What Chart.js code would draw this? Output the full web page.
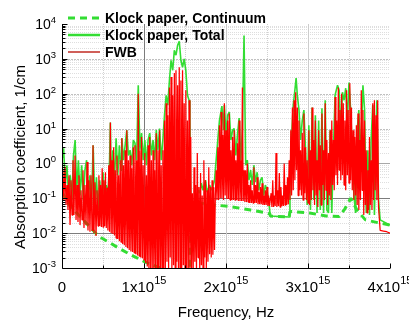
<!DOCTYPE html>
<html>
<head>
<meta charset="utf-8">
<script src="https://cdn.jsdelivr.net/npm/chart.js@4.4.1/dist/chart.umd.min.js"></script>
<style>
  html, body { margin: 0; padding: 0; background: #fff; }
  canvas { display: block; }
</style>
</head>
<body>
<canvas id="absorption-chart" width="409" height="321"></canvas>
<script>
// Frequencies are in units of 1e15 Hz, absorption in 1/cm

// Klock paper, continuum (dashed)
const contFreq = [0, 0.10, 0.22, 0.34, 0.42, 0.46, 0.59, 0.71, 0.87, 1.01,
  1.20, 1.38, 1.555, 1.56, 1.80, 2.05, 2.30, 2.50, 2.535, 2.54,
  2.77, 2.78, 3.02, 3.22, 3.38, 3.45, 3.52, 3.60, 3.70, 3.85,
  4.00];
const contAbs = [0.15, 0.06, 0.03, 0.015, 0.0095, 0.0078, 0.0052, 0.0035, 0.0022, 0.0015,
  0.001, 0.0007, 0.00055, 0.08, 0.066, 0.058, 0.046, 0.038, 0.036, 0.031,
  0.029, 0.042, 0.038, 0.031, 0.03, 0.05, 0.1, 0.045, 0.024, 0.02,
  0.017];

// Klock paper, total
const totalFreq = [0, 0.02, 0.04, 0.06, 0.08, 0.10, 0.12, 0.14, 0.16, 0.18,
  0.20, 0.22, 0.24, 0.26, 0.28, 0.30, 0.32, 0.34, 0.36, 0.38,
  0.40, 0.42, 0.44, 0.46, 0.48, 0.50, 0.52, 0.54, 0.56, 0.58,
  0.59, 0.60, 0.62, 0.64, 0.66, 0.68, 0.70, 0.72, 0.73, 0.75,
  0.77, 0.79, 0.81, 0.83, 0.85, 0.87, 0.89, 0.91, 0.93, 0.95,
  0.97, 0.99, 1.01, 1.03, 1.05, 1.07, 1.09, 1.11, 1.13, 1.15,
  1.17, 1.19, 1.21, 1.23, 1.25, 1.27, 1.29, 1.31, 1.33, 1.35,
  1.37, 1.39, 1.41, 1.43, 1.45, 1.47, 1.49, 1.51, 1.53, 1.55,
  1.56, 1.57, 1.60, 1.63, 1.66, 1.68, 1.70, 1.72, 1.75, 1.77,
  1.80, 1.83, 1.86, 1.88, 1.90, 1.92, 1.95, 1.97, 1.98, 2.00,
  2.02, 2.04, 2.06, 2.08, 2.10, 2.12, 2.14, 2.16, 2.18, 2.20,
  2.22, 2.24, 2.26, 2.28, 2.30, 2.32, 2.34, 2.36, 2.38, 2.40,
  2.42, 2.44, 2.46, 2.48, 2.50, 2.52, 2.54, 2.77, 2.78, 2.80,
  2.82, 2.84, 2.855, 2.87, 2.89, 2.91, 2.93, 2.95, 2.97, 2.99,
  3.01, 3.03, 3.05, 3.07, 3.09, 3.11, 3.13, 3.15, 3.17, 3.19,
  3.21, 3.23, 3.25, 3.27, 3.29, 3.31, 3.33, 3.36, 3.38, 3.40,
  3.42, 3.44, 3.46, 3.48, 3.50, 3.52, 3.54, 3.56, 3.58, 3.60,
  3.62, 3.64, 3.67, 3.69, 3.71, 3.73, 3.75, 3.77, 3.79, 3.81,
  3.84, 3.86, 3.88, 4.00];
const totalAbs = [1.24, 2.7, 0.24, 0.89, 0.12, 0.46, 0.089, 1.7, 4.7, 0.17,
  1.24, 0.12, 0.89, 0.089, 0.64, 1.24, 0.089, 0.46, 0.064, 3.3,
  0.064, 0.4, 0.046, 0.33, 0.064, 0.56, 0.089, 0.24, 0.12, 1.24,
  15, 0.17, 2.4, 0.33, 5.3, 0.46, 3.3, 0.64, 5.3, 1.24,
  3.3, 9, 1.7, 2.4, 0.89, 4.7, 3.8, 1.24, 175, 2.4,
  7.4, 1.24, 4.7, 0.89, 4.7, 7.4, 1.7, 4.7, 1.24, 9,
  2.4, 10, 1.24, 4.7, 24, 90, 47, 240, 910, 470,
  1760, 1270, 2450, 3200, 910, 570, 1000, 470, 90, 65,
  17, 0.089, 0.078, 0.083, 0.17, 0.14, 0.27, 0.17, 0.33, 0.15,
  0.24, 0.17, 0.33, 1.24, 4.7, 17, 44, 9, 47, 6.5,
  24, 30, 4.7, 9, 10, 1.7, 6.5, 20, 1.24, 9,
  4700, 0.89, 1.24, 0.33, 0.64, 0.24, 0.89, 0.29, 0.56, 0.17,
  0.33, 0.4, 0.12, 0.24, 0.17, 0.089, 0.031, 0.029, 0.33, 5.7,
  47, 126, 280, 90, 34, 4.7, 17, 34, 2.4, 0.064,
  12.5, 0.046, 40, 0.089, 24, 0.038, 17, 0.046, 38, 0.038,
  65, 0.046, 0.038, 9, 0.038, 2.4, 90, 175, 126, 9,
  110, 65, 144, 17, 210, 34, 2.4, 0.12, 0.038, 9,
  34, 1.24, 175, 34, 0.038, 2.4, 0.033, 4.7, 47, 0.033,
  65, 0.089, 0.024, 0.017];

// FWB
const fwbFreq = [0, 0.012, 0.024, 0.037, 0.049, 0.061, 0.073, 0.085, 0.098, 0.11,
  0.122, 0.134, 0.146, 0.159, 0.171, 0.183, 0.195, 0.207, 0.22, 0.232,
  0.244, 0.256, 0.268, 0.28, 0.293, 0.305, 0.317, 0.329, 0.341, 0.354,
  0.366, 0.378, 0.39, 0.402, 0.415, 0.427,
  0.44, 0.45, 0.46, 0.47, 0.48, 0.49, 0.50, 0.51, 0.52, 0.53,
  0.54, 0.55, 0.56, 0.57, 0.58, 0.59, 0.60, 0.61, 0.62, 0.63,
  0.64, 0.65, 0.66, 0.67, 0.68, 0.69, 0.70, 0.71, 0.72, 0.73,
  0.74, 0.75, 0.76, 0.77, 0.78, 0.79, 0.80, 0.81, 0.82, 0.83,
  0.84, 0.85, 0.86, 0.87, 0.88, 0.89, 0.90, 0.91, 0.92, 0.93,
  0.94, 0.95, 0.96, 0.97, 0.98, 0.99, 1.00, 1.01, 1.02, 1.03,
  1.04, 1.05, 1.06, 1.07, 1.08, 1.09, 1.10, 1.11, 1.12, 1.13,
  1.14, 1.15, 1.16, 1.17, 1.18, 1.19, 1.20, 1.21, 1.22, 1.23,
  1.24, 1.25, 1.26, 1.27, 1.28, 1.29, 1.30, 1.31, 1.32, 1.33,
  1.34, 1.35, 1.36, 1.37, 1.38, 1.39, 1.40, 1.41, 1.42, 1.43,
  1.44, 1.45, 1.46, 1.47, 1.48, 1.49, 1.50, 1.51, 1.52, 1.53,
  1.54, 1.55, 1.56, 1.57, 1.58,
  1.59, 1.60, 1.61, 1.62, 1.63, 1.64, 1.65, 1.66, 1.67, 1.68,
  1.69, 1.70, 1.71, 1.72, 1.73, 1.74, 1.75, 1.76, 1.77, 1.78,
  1.79, 1.80, 1.81, 1.82, 1.83, 1.84, 1.85, 1.86,
  1.87, 1.88, 1.89, 1.90, 1.91, 1.92, 1.93, 1.94, 1.95, 1.96,
  1.97, 1.98, 1.99, 2.00, 2.01, 2.02, 2.03, 2.04, 2.05, 2.06,
  2.07, 2.08, 2.09, 2.10, 2.11, 2.12, 2.13, 2.14, 2.15, 2.16,
  2.17, 2.18, 2.19, 2.20, 2.21, 2.22, 2.23, 2.24, 2.25, 2.26,
  2.27, 2.28, 2.29, 2.30, 2.31, 2.32, 2.33, 2.34, 2.35, 2.36,
  2.37, 2.38, 2.39, 2.40, 2.41, 2.42, 2.43, 2.44, 2.45, 2.46,
  2.47, 2.48, 2.49, 2.50, 2.51, 2.52, 2.53,
  2.55, 2.56, 2.57, 2.58, 2.59, 2.60, 2.61, 2.62, 2.63, 2.64,
  2.65, 2.66, 2.67, 2.68, 2.69, 2.70, 2.71, 2.72, 2.73, 2.74,
  2.75, 2.76, 2.77, 2.78,
  2.79, 2.80, 2.81, 2.82, 2.83, 2.84, 2.85, 2.86, 2.87, 2.88,
  2.89, 2.90, 2.91, 2.92, 2.93, 2.94, 2.95, 2.96, 2.97, 2.98,
  2.99, 3.00, 3.01, 3.02, 3.03, 3.04, 3.05, 3.06, 3.07, 3.08,
  3.09, 3.10, 3.11, 3.12, 3.13, 3.14, 3.15, 3.16, 3.17, 3.18,
  3.19, 3.20, 3.21, 3.22, 3.23, 3.24, 3.25, 3.26, 3.27, 3.28,
  3.29, 3.30, 3.31, 3.32, 3.33, 3.34, 3.35, 3.36, 3.37, 3.38,
  3.39, 3.40, 3.41, 3.42, 3.43, 3.44, 3.45, 3.46, 3.47, 3.48,
  3.49, 3.50, 3.51, 3.52, 3.53, 3.54, 3.55, 3.56, 3.57, 3.58,
  3.59, 3.60, 3.61, 3.62, 3.63, 3.64, 3.65, 3.66, 3.67, 3.68,
  3.69, 3.70, 3.71, 3.72, 3.73, 3.74, 3.75, 3.76, 3.77, 3.78,
  3.79, 3.80, 3.81, 3.82, 3.83, 3.84, 3.85, 3.86,
  3.88, 3.92, 3.96, 4.00];
const fwbAbs = [0.12, 0.64, 0.089, 0.8, 0.064, 0.24, 0.046, 0.46, 0.017, 0.33,
  0.033, 1.24, 0.033, 1.7, 0.024, 0.24, 0.021, 0.46, 0.017, 0.17,
  0.024, 0.64, 0.014, 0.24, 0.017, 1.1, 0.012, 0.33, 0.011, 0.46,
  0.012, 3.3, 0.01, 0.29, 0.0083, 0.17,
  0.016, 0.46, 0.016, 0.24, 0.015, 0.73, 0.015, 0.33, 0.016, 0.56,
  0.014, 0.2, 0.012, 0.89, 0.011, 15, 0.01, 1.24, 0.0095, 2.9,
  0.0085, 0.64, 0.0072, 1.7, 0.0068, 0.46, 0.0059, 1.24, 0.0055, 5.3,
  0.0049, 0.89, 0.0045, 2.4, 0.004, 9, 0.0037, 1.24, 0.0033, 1.7,
  0.003, 0.73, 0.0029, 2.9, 0.0027, 3.3, 0.0025, 1.24, 0.0023, 100,
  0.0022, 2.4, 0.002, 5.7, 0.0019, 0.89, 0.0017, 2, 0.0014, 0.46,
  0.0011, 3.3, 0.0009, 5.7, 0.0009, 1.24, 0.0009, 2.4, 0.0009, 0.64,
  0.0009, 7.4, 0.0009, 2.4, 0.0009, 9, 0.0009, 0.89, 0.0009, 2.4,
  0.0009, 17, 0.0009, 53, 0.0015, 24, 0.0009, 150, 0.002, 300,
  0.0009, 90, 0.0012, 390, 0.0009, 470, 0.0015, 175, 0.0009, 570,
  0.001, 240, 0.0009, 470, 0.0012, 53, 0.0009, 126, 0.0009, 17,
  0.0009, 65, 0.0009, 5.7, 0.0009,
  0.14, 0.0009, 0.78, 0.0015, 0.24, 0.0009, 2, 0.002, 0.21, 0.0009,
  0.53, 0.0012, 0.12, 0.0009, 1.24, 0.002, 0.33, 0.001, 0.17, 0.0015,
  0.78, 0.0025, 0.21, 0.002, 0.33, 0.0024, 0.21, 0.0033,
  0.12, 0.64, 0.089, 2.9, 0.089, 12.5, 0.1, 30, 0.1, 6.5,
  0.089, 53, 0.12, 9, 0.095, 17, 0.095, 27, 0.089, 2.4,
  0.089, 5.7, 0.089, 9, 0.089, 1.24, 0.089, 3.8, 0.083, 17,
  0.083, 1.24, 0.083, 150, 0.083, 0.64, 0.078, 0.64, 0.078, 1.0,
  0.078, 0.24, 0.073, 0.33, 0.073, 0.17, 0.073, 0.78, 0.073, 0.24,
  0.073, 0.4, 0.068, 0.15, 0.068, 0.21, 0.068, 0.27, 0.064, 0.12,
  0.064, 0.17, 0.064, 0.21, 0.06, 0.12, 0.06,
  0.14, 0.056, 0.33, 0.056, 0.12, 0.06, 2, 0.056, 0.17, 0.06,
  0.53, 0.056, 0.21, 0.06, 0.12, 0.06, 1.0, 0.064, 0.24, 0.064,
  0.4, 0.068, 1.24, 0.089,
  9, 0.12, 40, 0.17, 65, 0.33, 110, 0.64, 40, 0.12,
  17, 0.17, 2.4, 0.12, 7.4, 0.089, 27, 0.14, 2.9, 0.089,
  1.24, 0.073, 9, 0.064, 2.4, 0.089, 40, 0.17, 4.7, 0.064,
  17, 0.12, 1.24, 0.056, 9, 0.17, 3.3, 0.064, 27, 0.24,
  2.4, 0.089, 53, 0.17, 4.7, 0.064, 2, 0.12, 9, 0.089,
  17, 0.24, 4.7, 0.17, 80, 0.46, 17, 0.24, 150, 0.64,
  34, 0.33, 100, 0.46, 53, 0.24, 17, 0.17, 126, 0.46,
  34, 0.27, 200, 0.33, 40, 0.17, 9, 0.089, 5.7, 0.12,
  12.5, 0.064, 27, 0.046, 4.7, 0.089, 126, 0.17, 34, 0.033,
  17, 0.064, 2.4, 0.038, 0.64, 0.046, 5.7, 0.064, 1.24, 0.046,
  53, 0.089, 65, 0.17, 24, 0.089, 65, 0.056,
  0.012, 0.0115, 0.011, 0.01];

// axis ticks
const yTickExps = [-3, -2, -1, 0, 1, 2, 3, 4];
const xTickMults = [0, 1, 2, 3, 4];

const GREEN = '#33dd33';
const RED = '#ff0000';
const FONT = 'Arial, "Liberation Sans", sans-serif';

function toPoints(freqs, values) {
    const n = Math.min(freqs.length, values.length);
    if (freqs.length !== values.length) console.warn('length mismatch', freqs.length, values.length);
    return freqs.slice(0, n).map((f, i) => ({ x: f * 1e15, y: values[i] }));
}

// draws "base" followed by a raised exponent
function powerLabel(ctx, base, sup, x, y, align, baseSize, supSize, rise) {
    ctx.font = baseSize + 'px ' + FONT;
    const bw = ctx.measureText(base).width;
    ctx.font = supSize + 'px ' + FONT;
    const sw = sup ? ctx.measureText(sup).width : 0;
    let left = x;
    if (align === 'right') left = x - bw - sw;
    if (align === 'center') left = x - (bw + sw) / 2;
    ctx.textAlign = 'left';
    ctx.textBaseline = 'alphabetic';
    ctx.font = baseSize + 'px ' + FONT;
    ctx.fillText(base, left, y);
    if (sup) {
        ctx.font = supSize + 'px ' + FONT;
        ctx.fillText(sup, left + bw, y - rise);
    }
}

function hLine(ctx, y, x0, x1) {
    ctx.beginPath(); ctx.moveTo(x0, y); ctx.lineTo(x1, y); ctx.stroke();
}
function vLine(ctx, x, y0, y1) {
    ctx.beginPath(); ctx.moveTo(x, y0); ctx.lineTo(x, y1); ctx.stroke();
}

const framePlugin = {
    id: 'frame',
    beforeDatasetsDraw(chart) {
        const { ctx, chartArea: a, scales: { x, y } } = chart;
        ctx.save();
        ctx.lineWidth = 1;

        // horizontal grid: decades and 2..9 in between
        yTickExps.slice(0, -1).forEach(e => {
            for (let m = 1; m <= 9; m++) {
                if (e === -3 && m === 1) continue;
                const py = Math.round(y.getPixelForValue(m * Math.pow(10, e))) + 0.5;
                if (m === 1) {
                    if (e === -2 || e === -1) { ctx.strokeStyle = '#7c7c7c'; ctx.setLineDash([]); }
                    else if (e === 0) { ctx.strokeStyle = '#a8a8a8'; ctx.setLineDash([]); }
                    else { ctx.strokeStyle = '#c0c0c0'; ctx.setLineDash([2, 1]); }
                } else {
                    ctx.strokeStyle = '#dedede'; ctx.setLineDash([1, 1]);
                }
                hLine(ctx, py, a.left, a.right);
            }
        });

        // vertical grid every 0.5e15
        [0.5, 1, 1.5, 2, 2.5, 3, 3.5].forEach(h => {
            const px = Math.round(x.getPixelForValue(h * 1e15)) + 0.5;
            if (h === 1) { ctx.strokeStyle = '#7c7c7c'; ctx.setLineDash([]); }
            else if (Number.isInteger(h)) { ctx.strokeStyle = '#cccccc'; ctx.setLineDash([]); }
            else { ctx.strokeStyle = '#d0d0d0'; ctx.setLineDash([1, 1]); }
            vLine(ctx, px, a.top, a.bottom);
        });
        ctx.restore();
    },
    afterDatasetsDraw(chart) {
        const { ctx, chartArea: a, scales: { x, y } } = chart;
        ctx.save();
        ctx.setLineDash([]);
        ctx.strokeStyle = '#000';
        ctx.fillStyle = '#000';
        ctx.lineWidth = 1;

        // axis lines
        const ax = Math.round(a.left) + 0.5;
        const ay = Math.round(a.bottom) + 0.5;
        vLine(ctx, ax, a.top, ay);
        hLine(ctx, ay, ax, a.right);

        // y ticks (inside) and labels
        yTickExps.forEach((e, i) => {
            for (let m = 1; m <= 9; m++) {
                if (m > 1 && i === yTickExps.length - 1) break;
                const py = Math.round(y.getPixelForValue(m * Math.pow(10, e))) + 0.5;
                hLine(ctx, py, ax, ax + (m === 1 ? 5 : 3));
            }
            const ty = y.getPixelForValue(Math.pow(10, e));
            powerLabel(ctx, '10', String(e), 56, ty + 5, 'right', 14, 9.5, 6);
        });

        // x ticks (inside) and labels
        [0.5, 1, 1.5, 2, 2.5, 3, 3.5, 4].forEach(h => {
            const px = Math.round(x.getPixelForValue(h * 1e15)) + 0.5;
            vLine(ctx, px, ay, ay - (Number.isInteger(h) ? 5 : 3));
        });
        xTickMults.forEach(mult => {
            const px = x.getPixelForValue(mult * 1e15);
            if (mult === 0) powerLabel(ctx, '0', '', px, 292, 'center', 15, 11, 0);
            else powerLabel(ctx, mult + 'x10', '15', px, 292, 'center', 15, 11, 8);
        });

        // axis titles
        ctx.font = '15px ' + FONT;
        ctx.textAlign = 'center';
        ctx.textBaseline = 'alphabetic';
        ctx.fillText('Frequency, Hz', 226, 317);
        ctx.save();
        ctx.translate(24.5, 157);
        ctx.rotate(-Math.PI / 2);
        ctx.fillText('Absorption coefficient, 1/cm', 0, 0);
        ctx.restore();

        // legend in the upper left corner of the plot
        ctx.font = 'bold 14px ' + FONT;
        ctx.textAlign = 'left';
        ctx.textBaseline = 'middle';
        chart.data.datasets.forEach((ds, i) => {
            const ly = 18 + i * 17;
            ctx.save();
            ctx.strokeStyle = ds.legendColor || ds.borderColor;
            ctx.lineWidth = ds.legendWidth;
            ctx.setLineDash(ds.borderDash || []);
            hLine(ctx, ly, 68, 100);
            ctx.restore();
            ctx.fillStyle = '#000';
            ctx.fillText(ds.label, 105, ly + 1);
        });
        ctx.restore();
    }
};

new Chart(document.getElementById('absorption-chart'), {
    type: 'line',
    data: {
        datasets: [
            {
                label: 'Klock paper, Continuum',
                data: toPoints(contFreq, contAbs),
                borderColor: GREEN,
                borderWidth: 3,
                borderDash: [7, 5],
                legendWidth: 3,
                order: 3
            },
            {
                label: 'Klock paper, Total',
                data: toPoints(totalFreq, totalAbs),
                borderColor: GREEN,
                borderWidth: 1.6,
                legendWidth: 2.5,
                order: 2
            },
            {
                label: 'FWB',
                data: toPoints(fwbFreq, fwbAbs),
                borderColor: RED,
                borderWidth: 1.25,
                legendWidth: 1.5,
                legendColor: '#c02a22',
                order: 1
            }
        ]
    },
    options: {
        responsive: false,
        animation: false,
        devicePixelRatio: 1,
        layout: { padding: { left: 62, top: 24, right: 19, bottom: 53 } },
        elements: {
            point: { radius: 0 },
            line: { tension: 0, borderJoinStyle: 'bevel' }
        },
        scales: {
            x: { type: 'linear', min: 0, max: 4e15, display: false },
            y: { type: 'logarithmic', min: 1e-3, max: 1e4, display: false }
        },
        plugins: {
            legend: { display: false },
            tooltip: { enabled: false }
        }
    },
    plugins: [framePlugin]
});
</script>
</body>
</html>
